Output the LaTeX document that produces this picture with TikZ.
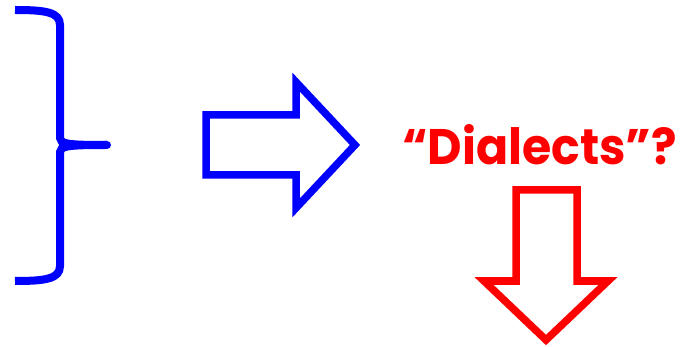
\documentclass[tikz,border=0pt]{standalone}
\usepackage{fontspec}
\usepackage{graphicx}
\newfontfamily\popfont{Poppins}
\begin{document}
\begin{tikzpicture}[x=1pt,y=-1pt,
  bracestyle/.style={draw=blue,line width=8pt,line cap=butt},
  blockarrow/.style={line width=7.5pt,miter limit=10,line join=miter},
  labeltext/.style={text=red,font=\popfont\bfseries\fontsize{54}{60}\selectfont,inner sep=0pt}]
\useasboundingbox (0,0) rectangle (685,347);
% brace
\coordinate (btop) at (15,10);
\coordinate (btip) at (107,145);
\coordinate (bbot) at (15,281);
\draw[bracestyle] (btop) .. controls (45,10) and (60,12) .. (60,25) -- (60,138) .. controls (60,144) and (68,145) .. (btip);
\draw[bracestyle] (bbot) .. controls (45,281) and (60,279) .. (60,266) -- (60,152) .. controls (60,146) and (68,145) .. (btip);
\fill[blue] (btip) circle (4pt);
% blue arrow
\draw[blue,blockarrow] (206,115) -- (296,115) -- (296,82) -- (355,145) -- (296,208) -- (296,175) -- (206,175) -- cycle;
% label
\node[labeltext,anchor=base] (lbl) at (539.5,165) {\resizebox{275pt}{40pt}{“Dialects”?}};
% red arrow
\draw[red,blockarrow] (516,190) -- (577,190) -- (577,281) -- (608,281) -- (546,340) -- (484,281) -- (516,281) -- cycle;
\end{tikzpicture}
\end{document}
